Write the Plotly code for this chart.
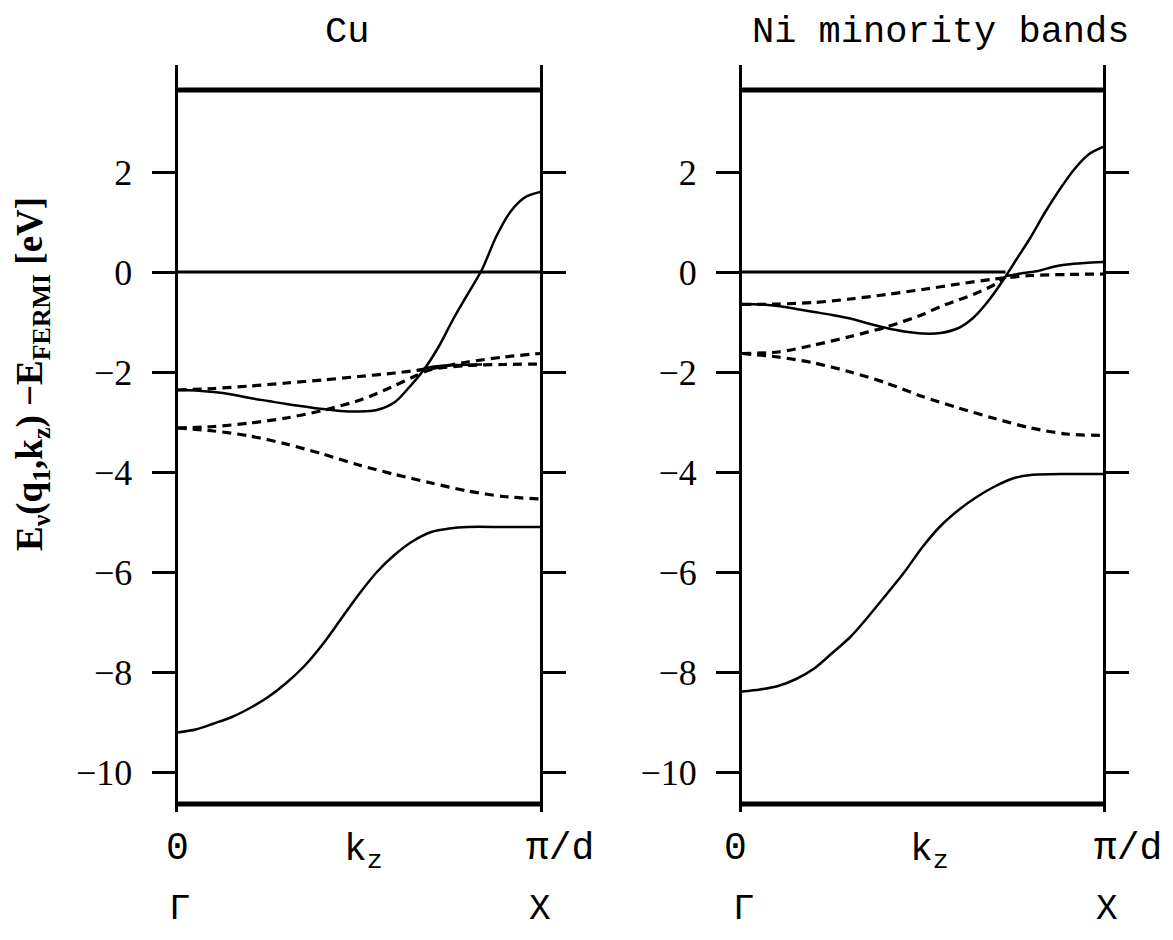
import plotly.graph_objects as go

# ---------------- data (k_z in units of pi/d, energies in eV) ----------------
# Cu
cu_s1_k = [0, .05, .1, .15, .2, .25, .3, .35, .4, .45, .5, .55, .6, .65, .7, .75, .8, .9, 1]
cu_s1_e = [-9.21, -9.15, -9.03, -8.9, -8.72, -8.5, -8.22, -7.88, -7.45, -6.95, -6.45, -6.0, -5.65, -5.38, -5.2, -5.13, -5.1, -5.1, -5.1]

cu_s2_k = [0, .05, .1, .15, .2, .25, .3, .35, .4, .45, .5, .55, .6, .64, .68, .72, .76, .8, .84, .88, .92, .96, 1]
cu_s2_e = [-2.36, -2.37, -2.4, -2.45, -2.52, -2.58, -2.64, -2.69, -2.74, -2.78, -2.79, -2.76, -2.6, -2.3, -1.95, -1.5, -0.95, -0.45, 0.05, 0.72, 1.22, 1.5, 1.6]

cu_s3_k = [.66, .7, .74, .78, .82, .84]
cu_s3_e = [-1.97, -1.9, -1.87, -1.86, -1.85, -1.85]

cu_d1_k = [0, .1, .2, .3, .4, .5, .6, .7, .8, .9, 1]
cu_d1_e = [-2.36, -2.33, -2.28, -2.22, -2.16, -2.09, -2.02, -1.93, -1.8, -1.7, -1.63]

cu_d2_k = [0, .1, .2, .3, .4, .5, .55, .6, .65, .7, .8, .9, 1]
cu_d2_e = [-3.12, -3.09, -3.02, -2.92, -2.77, -2.57, -2.43, -2.27, -2.1, -1.95, -1.87, -1.85, -1.84]

cu_d3_k = [0, .1, .2, .3, .4, .5, .6, .7, .8, .9, 1]
cu_d3_e = [-3.12, -3.18, -3.28, -3.44, -3.64, -3.86, -4.05, -4.22, -4.38, -4.49, -4.54]

# Ni minority bands
ni_s1_k = [0, .05, .1, .15, .2, .25, .3, .35, .4, .45, .5, .55, .6, .65, .7, .75, .8, .9, 1]
ni_s1_e = [-8.39, -8.35, -8.28, -8.14, -7.93, -7.62, -7.3, -6.89, -6.45, -6.0, -5.5, -5.08, -4.76, -4.5, -4.29, -4.13, -4.06, -4.04, -4.04]

ni_s2_k = [0, .05, .1, .15, .2, .25, .3, .35, .4, .45, .5, .55, .6, .64, .68, .72, .76, .8, .84, .88, .92, .96, 1]
ni_s2_e = [-0.64, -0.65, -0.68, -0.74, -0.8, -0.86, -0.93, -1.03, -1.12, -1.19, -1.23, -1.22, -1.12, -0.92, -0.6, -0.2, 0.25, 0.7, 1.2, 1.65, 2.05, 2.35, 2.5]

ni_s3_k = [.73, .78, .82, .86, .9, .95, 1]
ni_s3_e = [-0.08, -0.02, 0.02, 0.1, 0.15, 0.18, 0.2]

ni_d1_k = [0, .1, .2, .3, .4, .5, .6, .7, .8, .9, 1]
ni_d1_e = [-0.65, -0.64, -0.61, -0.54, -0.45, -0.35, -0.24, -0.14, -0.07, -0.05, -0.04]

ni_d2_k = [0, .1, .2, .3, .4, .5, .55, .6, .65, .7, .73]
ni_d2_e = [-1.63, -1.6, -1.46, -1.29, -1.1, -0.85, -0.69, -0.56, -0.42, -0.25, -0.1]

ni_d3_k = [0, .1, .2, .3, .4, .5, .6, .7, .8, .9, 1]
ni_d3_e = [-1.63, -1.7, -1.82, -2.0, -2.22, -2.49, -2.72, -2.93, -3.12, -3.24, -3.27]

# energy window and Fermi level
window_k = [0, 1]
window_top = 3.64
window_bottom = -10.64
fermi_k_cu = [0, 1]
fermi_k_ni = [0, 0.73]
fermi_e = 0

ytick_vals = [-10, -8, -6, -4, -2, 0, 2]
ytick_text = ["\u221210", "\u22128", "\u22126", "\u22124", "\u22122", "0", "2"]

panel_titles = ["Cu", "Ni minority bands"]
xlabels = ["0", "k<sub>z</sub>", "\u03c0/d"]
point_labels = ["\u0393", "X"]
ytitle = "E<sub>\u03bd</sub>(q<sub>1</sub>,k<sub>z</sub>) \u2212E<sub>FERMI</sub> [eV]"

# ---------------- figure ----------------
# the page body has an 8px margin, so the figure is 16px smaller and all
# reference pixel positions are shifted by 8px
OFF = 8
W, H = 1173 - 2 * OFF, 940 - 2 * OFF
fig = go.Figure()

def add_line(xa, ya, ks, es, dash="solid", width=2.5, smooth=True):
    fig.add_trace(go.Scatter(
        x=ks, y=es, mode="lines", xaxis=xa, yaxis=ya,
        line=dict(color="black", width=width, dash=dash,
                  shape="spline" if smooth else "linear", smoothing=0.8),
        showlegend=False, hoverinfo="skip"))

DASH = "9px,6px"
for xa, ya, fk, bands in [
    ("x", "y", fermi_k_cu, [(cu_s1_k, cu_s1_e, "solid"), (cu_s2_k, cu_s2_e, "solid"),
                            (cu_s3_k, cu_s3_e, "solid"), (cu_d1_k, cu_d1_e, DASH),
                            (cu_d2_k, cu_d2_e, DASH), (cu_d3_k, cu_d3_e, DASH)]),
    ("x2", "y2", fermi_k_ni, [(ni_s1_k, ni_s1_e, "solid"), (ni_s2_k, ni_s2_e, "solid"),
                              (ni_s3_k, ni_s3_e, "solid"), (ni_d1_k, ni_d1_e, DASH),
                              (ni_d2_k, ni_d2_e, DASH), (ni_d3_k, ni_d3_e, DASH)]),
]:
    add_line(xa, ya, window_k, [window_top] * 2, width=5, smooth=False)
    add_line(xa, ya, window_k, [window_bottom] * 2, width=5, smooth=False)
    add_line(xa, ya, fk, [fermi_e] * 2, width=3, smooth=False)
    for ks, es, d in bands:
        add_line(xa, ya, ks, es, dash=d, width=3.2 if d != "solid" else 2.5)

def px(x):
    return (x - OFF) / W

def py(y):
    return 1 - (y - OFF) / H

x_left = [px(177.5), px(540)]
x_right = [px(742), px(1103)]
y_top_px, y_bot_px = 65, 812
e_top = 4.14
e_bot = -10.8
ydom = [py(y_bot_px), py(y_top_px)]

xax = dict(range=[0, 1], visible=False, showgrid=False, zeroline=False, fixedrange=True)
yax = dict(range=[e_bot, e_top], domain=ydom, showline=True, linewidth=3, linecolor="black",
           mirror="ticks", ticks="outside", ticklen=23, tickwidth=3, tickcolor="black",
           tickvals=ytick_vals, ticktext=ytick_text, showgrid=False, zeroline=False,
           tickfont=dict(family="Liberation Serif", size=36, color="black"),
           ticklabelstandoff=12)

fig.update_layout(
    width=W, height=H, margin=dict(l=0, r=0, t=0, b=0),
    paper_bgcolor="white", plot_bgcolor="white",
    xaxis=dict(domain=x_left, anchor="y", **xax),
    yaxis=dict(anchor="x", **yax),
    xaxis2=dict(domain=x_right, anchor="y2", **xax),
    yaxis2=dict(anchor="x2", **yax),
)

mono = "Liberation Mono"
ann = []
def px_ann(text, x, y, size, family=mono, angle=0, bold=False):
    ann.append(dict(text=("<b>%s</b>" % text) if bold else text, x=px(x), y=py(y),
                    xref="paper", yref="paper", showarrow=False, textangle=angle,
                    xanchor="center", yanchor="middle",
                    font=dict(family=family, size=size, color="black")))

# titles
px_ann(panel_titles[0], 347, 32, 37)
px_ann(panel_titles[1], 940, 32, 37)
# x labels
px_ann(xlabels[0], 177, 848, 38)
px_ann(xlabels[1], 363, 852, 38)
px_ann(xlabels[2], 560, 848, 38)
px_ann(xlabels[0], 735, 848, 38)
px_ann(xlabels[1], 929, 852, 38)
px_ann(xlabels[2], 1128, 848, 38)
px_ann(point_labels[0], 180, 909, 36)
px_ann(point_labels[1], 540, 909, 36)
px_ann(point_labels[0], 744, 909, 36)
px_ann(point_labels[1], 1107, 909, 36)
# y title
px_ann(ytitle, 33, 374, 37, family="Liberation Serif", angle=-90, bold=True)

fig.update_layout(annotations=ann)
fig.write_html("out.html")
